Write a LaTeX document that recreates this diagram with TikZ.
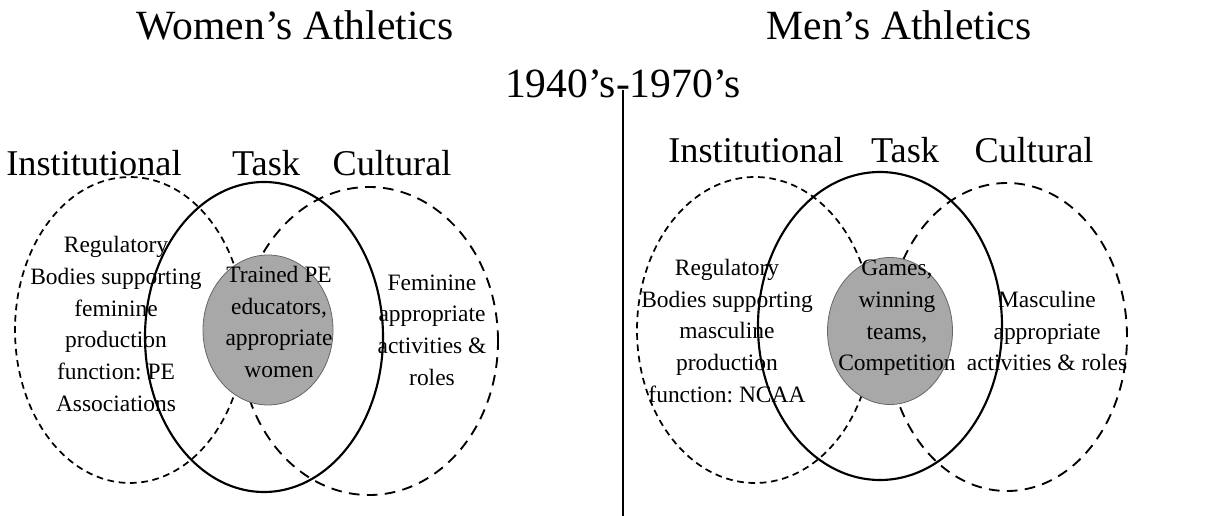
\documentclass[tikz,border=0pt]{standalone}
\usepackage{fontspec}
\setmainfont{Liberation Serif}
\usetikzlibrary{shapes.geometric}
\frenchspacing
\begin{document}
\begin{tikzpicture}[x=0.75pt,y=-0.75pt,
  ell/.style={ellipse,inner sep=0pt},
  instell/.style={ell,draw,line width=1.3pt,dash pattern=on 5pt off 3.5pt},
  cultell/.style={ell,draw,line width=1.4pt,dash pattern=on 8pt off 5.5pt},
  taskell/.style={ell,draw,line width=1.6pt},
  core/.style={ell,draw=gray!80!black,line width=0.6pt,fill=gray!68},
  title/.style={font=\fontsize{31.2}{37}\selectfont},
  head/.style={font=\fontsize{27.2}{32}\selectfont},
  body/.style={align=center,inner sep=0pt,font=\fontsize{17.6}{23.8}\selectfont}]
\useasboundingbox (0,0) rectangle (1214,516);
% titles
\node[title] (wt) at (295,25) {Women’s Athletics};
\node[title] (mt) at (899,25) {Men’s Athletics};
\node[title] (era) at (623,84) {1940’s-1970’s};
\coordinate (ltop) at (623,90);
\coordinate (lbot) at (623,516);
\draw[line width=1.5pt] (ltop) -- (lbot);
% left diagram
\node[instell,minimum width=172.5pt,minimum height=229.5pt] (li) at (130,330) {};
\node[taskell,minimum width=178.5pt,minimum height=232.5pt] (lt) at (264,337) {};
\node[cultell,minimum width=193.5pt,minimum height=231pt] (lc) at (369,341) {};
\node[core,minimum width=97.5pt,minimum height=112.5pt] (lg) at (268,330) {};
\node[head] (lih) at (94,163) {Institutional};
\node[head] (lth) at (266,163) {Task};
\node[head] (lch) at (392,163) {Cultural};
\node[body] (lit) at (116,324) {Regulatory\\Bodies supporting\\feminine\\production\\function: PE\\Associations};
\node[body] (lgt) at (279,322) {Trained PE\\educators,\\appropriate\\women};
\node[body] (lct) at (432,330) {Feminine\\appropriate\\activities \&\\roles};
% right diagram
\node[instell,minimum width=177pt,minimum height=229.5pt] (ri) at (755,330) {};
\node[taskell,minimum width=183pt,minimum height=231pt] (rt) at (880,326) {};
\node[cultell,minimum width=180pt,minimum height=231pt] (rc) at (1007,337) {};
\node[core,minimum width=93.75pt,minimum height=110.25pt] (rg) at (890,331) {};
\node[head] (rih) at (756,150) {Institutional};
\node[head] (rth) at (905,150) {Task};
\node[head] (rch) at (1034,150) {Cultural};
\node[body] (rit) at (727,331) {Regulatory\\Bodies supporting\\masculine\\production\\function: NCAA};
\node[body] (rgt) at (897,318) {Games,\\winning\\teams,\\Competition};
\node[body] (rct) at (1047,331) {Masculine\\appropriate\\activities \& roles};
\end{tikzpicture}
\end{document}
